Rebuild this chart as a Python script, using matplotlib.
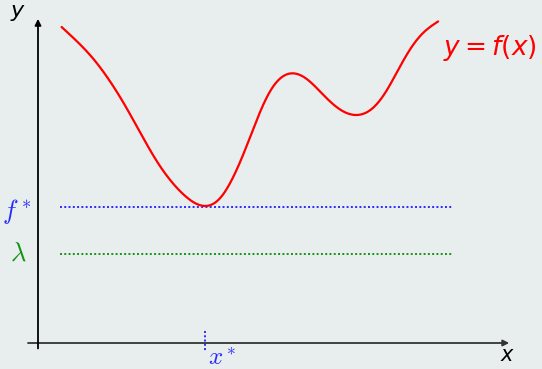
import numpy as np
import matplotlib
matplotlib.use("Agg")
import matplotlib.pyplot as plt

# Curve y = f(x): sampled values
curve_x = [0.59, 1.05, 1.38, 1.72, 2.05, 2.43, 2.80, 3.05, 3.38, 3.72, 4.18,
           4.55, 4.88, 5.09, 5.38, 5.63, 5.88, 6.13, 6.38, 6.72, 7.05, 7.30,
           7.63, 7.97, 8.38, 8.72, 8.97, 9.30, 9.63, 10.01]
curve_y = [9.87, 9.33, 8.90, 8.32, 7.70, 6.87, 6.03, 5.51, 4.99, 4.57, 4.28,
           4.47, 5.20, 5.74, 6.66, 7.49, 8.06, 8.34, 8.43, 8.27, 7.85, 7.54,
           7.23, 7.13, 7.33, 7.85, 8.48, 9.21, 9.73, 10.02]

x_star = 4.18      # minimiser
f_star = 4.25      # minimum value
lam = 2.78         # level lambda
level_span = [0.55, 10.375]

BG = "#e8eded"
XS, YS = 40.0, 32.0   # display scale of one data unit on each axis (pixels)


def smooth_graph(xs, ys, penalty=400.0, step=0.5):
    """Penalised (Whittaker-type) smooth of the samples on a fine x grid,
    working in display units so the roughness weight is isotropic."""
    px = np.asarray(xs) * XS
    py = np.asarray(ys) * YS
    grid = np.arange(px[0], px[-1] + 1e-9, step)
    m = len(grid)
    # linear interpolation matrix from grid values to sample positions
    W = np.zeros((len(px), m))
    for i, x in enumerate(px):
        j = min(int((x - grid[0]) / step), m - 2)
        w = (x - grid[j]) / step
        W[i, j] = 1 - w
        W[i, j + 1] = w
    D = np.diff(np.eye(m), n=2, axis=0) / step ** 2
    A = W.T @ W + penalty * step * D.T @ D
    g = np.linalg.solve(A, W.T @ py)
    return grid / XS, g / YS


fig = plt.figure(figsize=(5.42, 3.69), dpi=100, facecolor=BG)
ax = fig.add_axes([0, 0, 1, 1])
ax.set_facecolor(BG)
ax.set_xlim(-0.95, 12.6)
ax.set_ylim(-0.8125, 10.72)
ax.axis("off")

# axes with arrows
ax.annotate("", xy=(11.78, 0), xytext=(-0.25, 0),
            arrowprops=dict(arrowstyle="-|>", color="#333333", lw=1.3,
                            mutation_scale=9, shrinkA=0, shrinkB=0))
ax.annotate("", xy=(0, 10.13), xytext=(0, -0.17),
            arrowprops=dict(arrowstyle="-|>", color="black", lw=1.3,
                            mutation_scale=9, shrinkA=0, shrinkB=0))

# level lines
ax.plot(level_span, [f_star, f_star], color="#2a2aff", lw=1.4,
        linestyle=(0, (1, 1.2)))
ax.plot(level_span, [lam, lam], color="#149414", lw=1.4,
        linestyle=(0, (1, 1.2)))
ax.plot([x_star, x_star], [0.375, -0.28], color="#2a2aff", lw=1.4,
        linestyle=(0, (1, 1.2)))

# the function
sx, sy = smooth_graph(curve_x, curve_y)
ax.plot(sx, sy, color="red", lw=1.6, solid_capstyle="round")

# labels
ax.text(-0.5, 10.3, "$y$", fontsize=16, ha="center", va="center",
        math_fontfamily="dejavusans")
ax.text(11.75, -0.36, "$x$", fontsize=15, ha="center", va="center",
        math_fontfamily="dejavusans")
ax.text(11.3, 9.22, "$y = f(x)$", fontsize=19, ha="center", va="center",
        color="red", math_fontfamily="dejavusans")
ax.text(-0.52, 4.12, "$f^*$", fontsize=19, ha="center", va="center",
        color="#2a2aff", math_fontfamily="cm")
ax.text(-0.5, 2.78, r"$\lambda$", fontsize=19, ha="center", va="center",
        color="#149414", math_fontfamily="cm")
ax.text(4.6, -0.47, "$x^*$", fontsize=18, ha="center", va="center",
        color="#2a2aff", math_fontfamily="cm")

fig.savefig("out.png", dpi=100, facecolor=BG)
